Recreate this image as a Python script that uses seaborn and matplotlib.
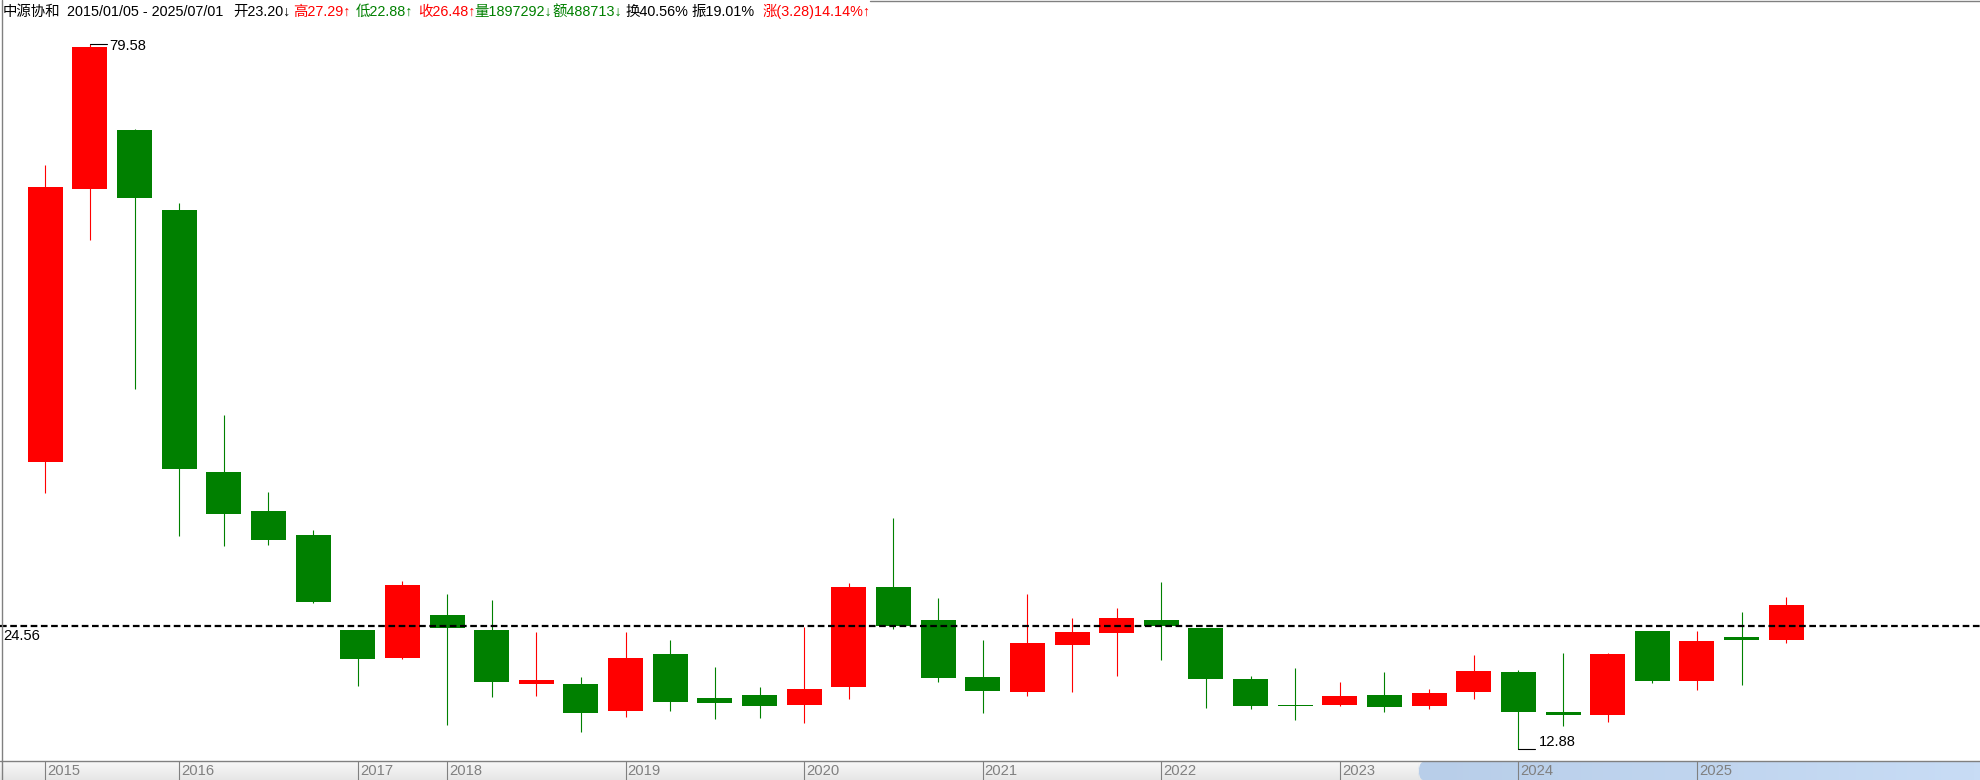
import matplotlib
matplotlib.use("Agg")
import matplotlib.pyplot as plt
import seaborn as sns
import numpy as np
from matplotlib.lines import Line2D
from matplotlib.patches import FancyBboxPatch
from matplotlib.transforms import blended_transform_factory
from matplotlib.colors import LinearSegmentedColormap

# quarterly bars of 中源协和, 2015/01/05 - 2025/07/01
opens = [40.05, 65.89, 71.47, 63.90, 39.11, 35.41, 33.14, 24.15, 21.50, 25.57,
         24.15, 19.07, 19.04, 16.52, 21.88, 17.72, 18.00, 17.09, 18.76, 28.22,
         25.10, 19.71, 18.29, 22.73, 23.87, 25.10, 24.34, 19.52, 17.05, 17.05,
         18.00, 16.96, 18.29, 20.18, 16.39, 16.11, 24.06, 19.32, 23.49, 23.20]
highs = [68.16, 79.58, 71.60, 64.56, 44.50, 37.21, 33.62, 24.15, 28.79, 27.56,
         26.99, 23.96, 19.71, 23.96, 23.21, 20.65, 18.76, 24.40, 28.60, 34.75,
         27.18, 23.21, 27.56, 25.29, 26.23, 28.70, 24.34, 19.80, 20.56, 19.23,
         20.18, 18.57, 21.79, 20.37, 21.98, 21.98, 24.06, 24.06, 25.86, 27.29]
lows = [37.15, 61.06, 46.96, 33.08, 32.10, 32.20, 26.75, 18.85, 21.40, 15.16,
        17.81, 17.91, 14.50, 15.95, 16.52, 15.76, 15.86, 15.38, 17.62, 24.28,
        19.23, 16.30, 17.91, 18.29, 19.80, 21.31, 16.77, 16.68, 15.64, 16.96,
        16.39, 16.68, 17.62, 12.88, 15.10, 15.47, 19.13, 18.48, 18.95, 22.88]
closes = [66.08, 79.35, 65.03, 39.39, 35.16, 32.67, 26.80, 21.41, 28.41, 24.37,
          19.23, 19.42, 16.33, 21.50, 17.37, 17.28, 16.99, 18.57, 28.22, 24.56,
          19.61, 18.38, 22.92, 23.96, 25.29, 24.56, 19.52, 16.96, 16.96, 17.91,
          16.87, 18.19, 20.27, 16.39, 16.11, 21.88, 19.32, 23.11, 23.21, 26.48]

year_labels = ["2015", "2016", "2017", "2018", "2019", "2020",
               "2021", "2022", "2023", "2024", "2025"]
year_first_bar = [0, 3, 7, 9, 13, 17, 21, 25, 29, 33, 37]

ref_price = 24.56
ref_label = "24.56"
high_bar, high_label = 1, "79.58"
low_bar, low_label = 33, "12.88"

header_parts = ["中源协和", "2015/01/05 - 2025/07/01", "开23.20↓", "高27.29↑",
                "低22.88↑", "收26.48↑", "量1897292↓", "额488713↓",
                "换40.56%", "振19.01%", "涨(3.28)14.14%↑"]
header_colors = ["black", "black", "black", "red", "green", "red",
                 "green", "green", "black", "black", "red"]

# ---- layout (pixels of a 1980x780 canvas) ----
W, H = 1980, 780
AXIS_Y = 761          # row of the date axis line
X0, STEP = 45.3, 44.64  # centre of first bar, spacing of bars
header_x = [3, 67, 233, 293, 356, 418, 474, 552, 625, 692, 763]
UP, DOWN = "#FF0000", "#008000"
GRAY = "#808080"

sns.set_theme(style="white")
plt.rcParams["font.family"] = ["Liberation Sans", "Noto Sans CJK SC", "DejaVu Sans"]
plt.rcParams["font.size"] = 10.6

fig = plt.figure(figsize=(W / 100, H / 100), dpi=100)
fig.patch.set_facecolor("white")

ax = fig.add_axes([0, (H - AXIS_Y) / H, 1, AXIS_Y / H])
ax.set_xlim(-X0 / STEP, (W - X0) / STEP)
ax.set_ylim(11.76, 83.77)
ax.set_facecolor("white")
for s in ax.spines.values():
    s.set_visible(False)
ax.set_xticks([])
ax.set_yticks([])

o = np.array(opens)
c = np.array(closes)
x = np.arange(len(o))
colors = [UP if cc > oo else DOWN for oo, cc in zip(o, c)]

ax.vlines(x, lows, highs, colors=colors, linewidth=0.8, zorder=2)
ax.bar(x, np.maximum(np.abs(c - o), 0.08), bottom=np.minimum(o, c), width=0.784,
       color=colors, linewidth=0, zorder=3)

ax.axhline(ref_price, color="black", lw=1.6, ls=(0, (3, 1.6)), zorder=4)
tr = blended_transform_factory(ax.transAxes, ax.transData)
ax.annotate(ref_label, xy=(0, ref_price), xycoords=tr, xytext=(3, -14),
            textcoords="offset pixels", va="baseline", ha="left", color="black")

# extreme price marks
ax.plot([high_bar, high_bar + 17 / STEP], [highs[high_bar]] * 2, color="black", lw=0.8, zorder=4)
ax.annotate(high_label, xy=(high_bar, highs[high_bar]), xytext=(19, -6),
            textcoords="offset pixels", va="baseline", ha="left", color="black")
ax.plot([low_bar, low_bar + 17 / STEP], [lows[low_bar]] * 2, color="black", lw=0.8, zorder=4)
ax.annotate(low_label, xy=(low_bar, lows[low_bar]), xytext=(20, 3),
            textcoords="offset pixels", va="baseline", ha="left", color="black")

# date bar at the bottom
bax = fig.add_axes([0, 0, 1, (H - AXIS_Y) / H])
bax.set_xlim(ax.get_xlim())
bax.set_ylim(0, 1)
for s in bax.spines.values():
    s.set_visible(False)
bax.set_xticks([])
bax.set_yticks([])
gray_cm = LinearSegmentedColormap.from_list("g", ["#e6e6e6", "#f8f8f8"])
bax.imshow(np.linspace(0, 1, 50).reshape(-1, 1), cmap=gray_cm, aspect="auto",
           extent=(*ax.get_xlim(), 0, 1), origin="lower", zorder=0)
blue_left = (1418 - X0) / STEP
blue_cm = LinearSegmentedColormap.from_list("b", ["#b8cee9", "#c8dcf5"])
img = bax.imshow(np.linspace(0, 1, 100).reshape(1, -1), cmap=blue_cm, aspect="auto",
                 extent=(blue_left, ax.get_xlim()[1], 0, 1), zorder=1)
clip = FancyBboxPatch((blue_left, 0.0), ax.get_xlim()[1] - blue_left + 2, 0.95,
                      boxstyle="round,pad=0,rounding_size=0.12", mutation_aspect=8,
                      transform=bax.transData, facecolor="none", edgecolor="none")
bax.add_patch(clip)
img.set_clip_path(clip)
bax.vlines(year_first_bar, 0, 1, color=GRAY, lw=0.8, zorder=2)
for i, lab in zip(year_first_bar, year_labels):
    bax.annotate(lab, xy=(i, 0.45), xytext=(2, 0), textcoords="offset pixels",
                 va="center", ha="left", color=GRAY, fontsize=10.6)
bax.set_xlim(ax.get_xlim())
bax.set_ylim(0, 1)

# frame lines
fig.add_artist(Line2D([0, 1], [(H - AXIS_Y) / H] * 2, color=GRAY, lw=1.0))
fig.add_artist(Line2D([1.5 / W] * 2, [0, 1], color=GRAY, lw=1.0))
fig.add_artist(Line2D([870 / W, 1], [1 - 1 / H] * 2, color=GRAY, lw=1.0))

# header line
for txt, col, px in zip(header_parts, header_colors, header_x):
    fig.text(px / W, 1 - 16 / H, txt, color=col, va="baseline", ha="left", fontsize=10.4)

fig.savefig("out.png", dpi=100, facecolor="white")
